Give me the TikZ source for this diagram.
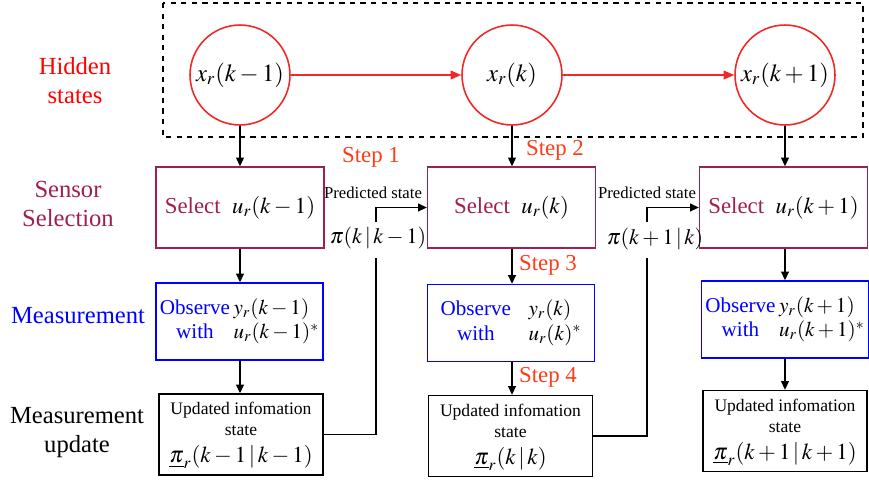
\documentclass[tikz,border=0pt]{standalone}
\usepackage{mathptmx}
\usepackage{fontspec}
\setmainfont{Liberation Serif}
\usetikzlibrary{arrows.meta}

\definecolor{selred}{RGB}{160,30,80}
\definecolor{steporange}{RGB}{255,60,20}
\definecolor{hidred}{RGB}{240,40,40}

\tikzset{
  hidden/.style={circle,draw=hidred,line width=0.9pt,minimum size=2cm,inner sep=0pt,font=\fontsize{14}{16}\selectfont},
  selbox/.style={draw=selred,line width=0.8pt,minimum width=3.36cm,minimum height=1.62cm,inner sep=1pt,text=selred,font=\fontsize{13}{15}\selectfont},
  obsbox/.style={draw=blue,line width=0.8pt,text width=3.2cm,align=center,minimum width=3.34cm,minimum height=1.54cm,inner sep=1pt,text=blue,font=\fontsize{12}{14}\selectfont},
  updbox/.style={draw=black,line width=0.8pt,minimum width=3.28cm,minimum height=1.62cm,inner sep=1pt},
  rowlabel/.style={align=center,font=\fontsize{14}{16.5}\selectfont},
  steplabel/.style={text=steporange,font=\fontsize{13}{15}\selectfont},
  predlabel/.style={font=\fontsize{9.5}{11}\selectfont,inner sep=1pt},
  pilabel/.style={font=\fontsize{12.5}{14}\selectfont,inner sep=1pt},
  redarrow/.style={->,draw=hidred,line width=0.8pt,>={Triangle[length=6pt,width=5pt]}},
}
\newcommand{\updtext}[1]{\begin{tabular}{@{}c@{}}{\fontsize{10}{10.5}\selectfont Updated infomation}\\{\fontsize{10}{10.5}\selectfont state}\\[2pt]{\fontsize{13}{15}\selectfont $#1$}\end{tabular}}
\newcommand{\obstext}[2]{\begin{tabular}{@{}c@{\,}l@{}}Observe & \textcolor{black}{$#1$}\\ with & \textcolor{black}{$#2$}\end{tabular}}

\begin{document}
\begin{tikzpicture}[x=0.02cm,y=-0.02cm,line width=0.7pt,>={Triangle[length=5pt,width=4.5pt]}]
  \useasboundingbox (0,0) rectangle (869,485);
  \draw[dashed,line width=0.7pt] (163,3) rectangle (863,137);

  \node[rowlabel,text=red] (lhid) at (75,81) {Hidden\\states};
  \node[rowlabel,text=selred] (lsel) at (68,204) {Sensor\\Selection};
  \node[rowlabel,text=blue] (lobs) at (78,316) {Measurement};
  \node[rowlabel] (lupd) at (77,433) {Measurement\\update};

  \node[hidden] (x1) at (240,75) {$x_r(k-1)$};
  \node[hidden] (x2) at (512,75) {$x_r(k)$};
  \node[hidden] (x3) at (785,75) {$x_r(k+1)$};

  \node[selbox] (s1) at (240,207.5) {Select\ \ \textcolor{black}{$u_r(k-1)$}};
  \node[selbox] (s2) at (511.5,207.5) {Select\ \ \textcolor{black}{$u_r(k)$}};
  \node[selbox] (s3) at (783.5,207.5) {Select\ \ \textcolor{black}{$u_r(k+1)$}};

  \node[obsbox] (m1) at (239.5,321.5) {\obstext{y_r(k-1)}{u_r(k-1)^*}};
  \node[obsbox] (m2) at (511,323) {\obstext{\ \ y_r(k)}{\ \ u_r(k)^*}};
  \node[obsbox] (m3) at (785,319.5) {\obstext{y_r(k+1)}{u_r(k+1)^*}};

  \node[updbox] (p1) at (241,434.5) {\updtext{\underline{\pi}_r(k-1\,|\,k-1)}};
  \node[updbox] (p2) at (510.5,436) {\updtext{\underline{\pi}_r(k\,|\,k)}};
  \node[updbox] (p3) at (785,431) {\updtext{\underline{\pi}_r(k+1\,|\,k+1)}};

  \draw[redarrow] (x1) -- (x2);
  \draw[redarrow] (x2) -- (x3);
  \foreach \i in {1,2,3} {
    \draw[->] (x\i.south) -- (x\i.south |- s\i.north);
    \draw[->] (x\i.south |- s\i.south) -- (x\i.south |- m\i.north);
    \draw[->] (x\i.south |- m\i.south) -- (x\i.south |- p\i.north);
  }

  \node[steplabel] (st1) at (371,157) {Step 1};
  \node[steplabel] (st2) at (555,150) {Step 2};
  \node[steplabel] (st3) at (548,265) {Step 3};
  \node[steplabel] (st4) at (548,377) {Step 4};

  \node[predlabel] (pr1) at (373,193) {Predicted state};
  \node[predlabel] (pr2) at (647,193) {Predicted state};
  \node[pilabel] (pi1) at (378,238) {$\pi(k\,|\,k-1)$};
  \node[pilabel] (pi2) at (655,239) {$\pi(k+1\,|\,k)$};

  \coordinate (f1) at (376,258);
  \coordinate (g1) at (376,222);
  \coordinate (f2) at (647,258);
  \coordinate (g2) at (647,222);
  \draw (p1.east) -| (f1);
  \draw[->] (g1) |- (s2.west);
  \draw (p2.east) -| (f2);
  \draw[->] (g2) |- (s3.west);
\end{tikzpicture}
\end{document}
